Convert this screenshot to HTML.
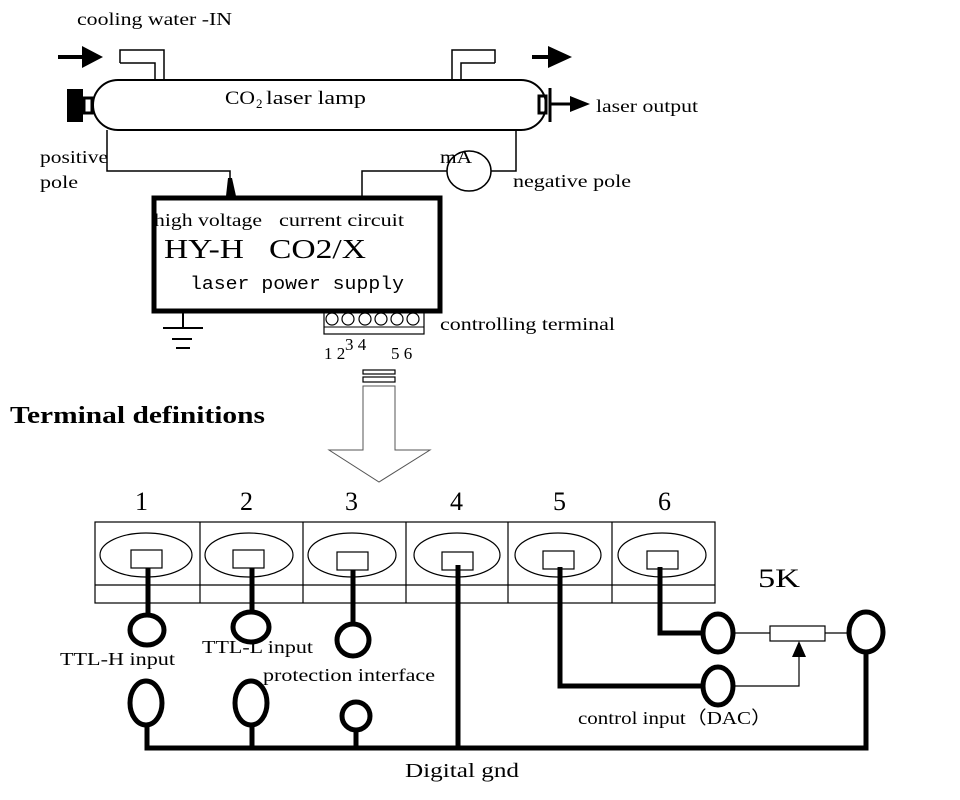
<!DOCTYPE html>
<html><head><meta charset="utf-8"><style>
html,body{margin:0;padding:0;background:#fff;}
svg text{font-family:"Liberation Serif",serif;fill:#000;}
</style></head><body>
<svg width="960" height="795" viewBox="0 0 960 795" xmlns="http://www.w3.org/2000/svg">
<g fill="none" stroke="#000">
<line x1="58" y1="57" x2="85" y2="57" stroke-width="4"/>
<polygon points="82,46 103,57 82,68" fill="#000" stroke="none"/>
<line x1="532" y1="57" x2="550" y2="57" stroke-width="4"/>
<polygon points="548,46 572,57 548,68" fill="#000" stroke="none"/>
<path d="M120,63 V50 H164 V80 M120,63 H155 V80" stroke-width="1.5"/>
<path d="M495,63 V50 H452 V80 M495,63 H461 V80" stroke-width="1.5"/>
<rect x="93" y="80" width="453" height="50" rx="25" stroke-width="2"/>
<rect x="67" y="89" width="16" height="33" fill="#000" stroke="none"/>
<rect x="84" y="98" width="8" height="15" stroke-width="3"/>
<rect x="539" y="96" width="7" height="17" stroke-width="3"/>
<line x1="550" y1="88" x2="550" y2="122" stroke-width="3"/>
<line x1="550" y1="104" x2="572" y2="104" stroke-width="3"/>
<polygon points="570,96 590,104 570,112" fill="#000" stroke="none"/>
<path d="M107,130 V171 H230 V180" stroke-width="1.5"/>
<polygon points="226,196 228,178 232,178 236,196" fill="#000" stroke="none"/>
<path d="M516,130 V171 H491 M447,171 H362 V196" stroke-width="1.5"/>
<ellipse cx="469" cy="171" rx="22" ry="20" stroke-width="1.5"/>
<rect x="154" y="198" width="286" height="113" stroke-width="5"/>
<path d="M183,313 V328 M163,328 H203 M172,339 H192 M176,348 H190" stroke-width="2"/>
<rect x="324" y="312" width="100" height="22" stroke-width="1.2"/>
<line x1="324" y1="327" x2="424" y2="327" stroke-width="1"/>
<g stroke-width="1.2">
<circle cx="332" cy="319" r="6"/><circle cx="348" cy="319" r="6"/><circle cx="365" cy="319" r="6"/><circle cx="381" cy="319" r="6"/><circle cx="397" cy="319" r="6"/><circle cx="413" cy="319" r="6"/>
</g>
<rect x="363" y="370" width="32" height="4" stroke-width="1.2"/>
<rect x="363" y="377" width="32" height="5" stroke-width="1.2"/>
<path d="M363,386 V450 H329 L379,482 L430,450 H395 V386 Z" stroke-width="1" stroke="#555"/>
<rect x="95" y="522" width="620" height="81" stroke-width="1.2"/>
<line x1="95" y1="585" x2="715" y2="585" stroke-width="1.2"/>
<path d="M200,522V603 M303,522V603 M406,522V603 M508,522V603 M612,522V603" stroke-width="1.2"/>
<g stroke-width="1.2">
<ellipse cx="146" cy="555" rx="46" ry="22"/><rect x="131" y="550" width="31" height="18"/>
<ellipse cx="249" cy="555" rx="44" ry="22"/><rect x="233" y="550" width="31" height="18"/>
<ellipse cx="352" cy="555" rx="44" ry="22"/><rect x="337" y="552" width="31" height="18"/>
<ellipse cx="457" cy="555" rx="43" ry="22"/><rect x="442" y="552" width="31" height="18"/>
<ellipse cx="558" cy="555" rx="43" ry="22"/><rect x="543" y="551" width="31" height="18"/>
<ellipse cx="662" cy="555" rx="44" ry="22"/><rect x="647" y="551" width="31" height="18"/>
</g>
<g stroke-width="5">
<line x1="148" y1="568" x2="148" y2="615"/>
<ellipse cx="147" cy="630" rx="17" ry="15"/>
<line x1="252" y1="568" x2="252" y2="612"/>
<ellipse cx="251" cy="627" rx="18" ry="15"/>
<line x1="353" y1="570" x2="353" y2="624"/>
<ellipse cx="353" cy="640" rx="16" ry="16"/>
<ellipse cx="146" cy="703" rx="16" ry="22"/>
<ellipse cx="251" cy="703" rx="16" ry="22"/>
<ellipse cx="356" cy="716" rx="14" ry="14"/>
<path d="M147,725 V748 H866 V652"/>
<line x1="252" y1="725" x2="252" y2="748"/>
<line x1="356" y1="730" x2="356" y2="748"/>
<line x1="458" y1="565" x2="458" y2="748"/>
<path d="M560,567 V686 H703"/>
<path d="M660,567 V633 H703"/>
<ellipse cx="718" cy="633" rx="15" ry="19"/>
<ellipse cx="718" cy="686" rx="15" ry="19"/>
<ellipse cx="866" cy="632" rx="17" ry="20"/>
</g>
<g stroke-width="1.2">
<line x1="733" y1="633" x2="770" y2="633"/>
<rect x="770" y="626" width="55" height="15"/>
<line x1="825" y1="633" x2="849" y2="633"/>
<path d="M733,686 H799 V655"/>
</g>
<polygon points="792,657 799,641 806,657" fill="#000" stroke="none"/>
</g>
<text x="77" y="25" font-size="18" textLength="155" lengthAdjust="spacingAndGlyphs">cooling water -IN</text>
<text x="225" y="104" font-size="19" textLength="30" lengthAdjust="spacingAndGlyphs">CO</text>
<text x="256" y="108" font-size="13">2</text>
<text x="266" y="104" font-size="19" textLength="100" lengthAdjust="spacingAndGlyphs">laser lamp</text>
<text x="596" y="112" font-size="18" textLength="102" lengthAdjust="spacingAndGlyphs">laser output</text>
<text x="40" y="163" font-size="18" textLength="68" lengthAdjust="spacingAndGlyphs">positive</text>
<text x="40" y="188" font-size="18" textLength="38" lengthAdjust="spacingAndGlyphs">pole</text>
<text x="440" y="163" font-size="18" textLength="32" lengthAdjust="spacingAndGlyphs">mA</text>
<text x="513" y="187" font-size="18" textLength="118" lengthAdjust="spacingAndGlyphs">negative pole</text>
<text x="154" y="226" font-size="18" textLength="108" lengthAdjust="spacingAndGlyphs">high voltage</text>
<text x="279" y="226" font-size="18" textLength="125" lengthAdjust="spacingAndGlyphs">current circuit</text>
<text x="164" y="258" font-size="27" textLength="80" lengthAdjust="spacingAndGlyphs">HY-H</text>
<text x="269" y="258" font-size="27" textLength="97" lengthAdjust="spacingAndGlyphs">CO2/X</text>
<text x="190" y="289" font-size="18" textLength="214" lengthAdjust="spacingAndGlyphs" style="font-family:'Liberation Mono',monospace">laser power supply</text>
<text x="440" y="330" font-size="18" textLength="175" lengthAdjust="spacingAndGlyphs">controlling terminal</text>
<text x="324" y="359" font-size="17">1 2</text>
<text x="345" y="350" font-size="17">3 4</text>
<text x="391" y="359" font-size="17">5 6</text>
<text x="10" y="423" font-size="24" font-weight="bold" textLength="255" lengthAdjust="spacingAndGlyphs">Terminal definitions</text>
<g font-size="26">
<text x="135" y="510">1</text><text x="240" y="510">2</text><text x="345" y="510">3</text>
<text x="450" y="510">4</text><text x="553" y="510">5</text><text x="658" y="510">6</text>
<text x="758" y="587" textLength="42" lengthAdjust="spacingAndGlyphs">5K</text>
</g>
<text x="60" y="665" font-size="18" textLength="115" lengthAdjust="spacingAndGlyphs">TTL-H input</text>
<text x="202" y="653" font-size="18" textLength="111" lengthAdjust="spacingAndGlyphs">TTL-L input</text>
<text x="263" y="681" font-size="18" textLength="172" lengthAdjust="spacingAndGlyphs">protection interface</text>
<text x="578" y="724" font-size="18" textLength="194" lengthAdjust="spacingAndGlyphs">control input（DAC）</text>
<text x="405" y="777" font-size="20" textLength="114" lengthAdjust="spacingAndGlyphs">Digital gnd</text>
</svg>
</body></html>
